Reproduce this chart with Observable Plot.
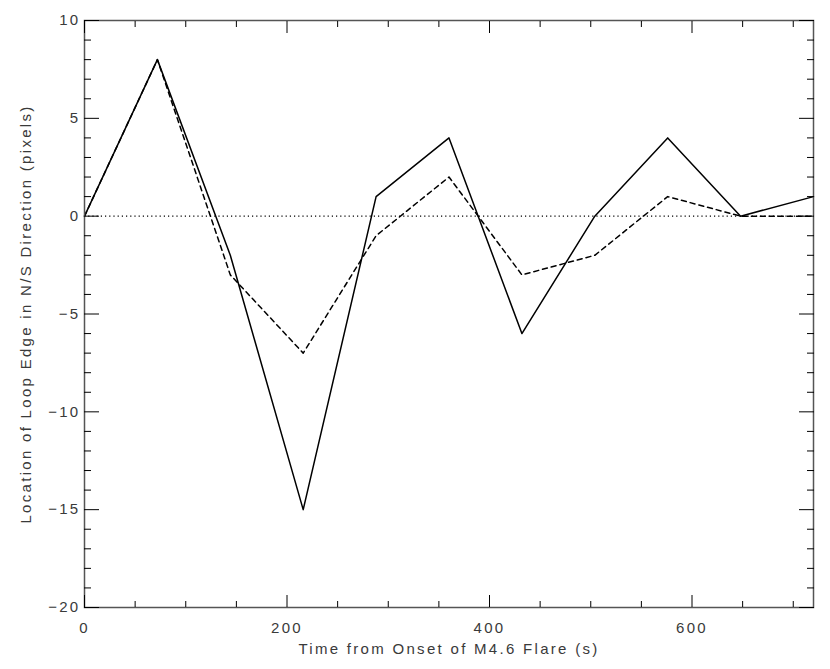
<!DOCTYPE html>
<html>
<head>
<meta charset="utf-8">
<script src="https://cdn.jsdelivr.net/npm/d3@7"></script>
<script src="https://cdn.jsdelivr.net/npm/@observablehq/plot@0.6"></script>
<style>
  html, body { margin: 0; padding: 0; background: #fff; }
</style>
</head>
<body>
<div id="chart"></div>
<script>
// Data
const times = [0, 72, 144, 216, 288, 360, 432, 504, 576, 648, 720];
const solidValues = [0, 8, -2, -15, 1, 4, -6, 0, 4, 0, 1];
const dashedValues = [0, 8, -3, -7, -1, 2, -3, -2, 1, 0, 0];

const xMajorTicks = [0, 200, 400, 600];
const xMinorTicks = [50, 100, 150, 250, 300, 350, 450, 500, 550, 650, 700];
const yMajorTicks = [-20, -15, -10, -5, 0, 5, 10];
const yMinorTicks = [-19, -18, -17, -16, -14, -13, -12, -11, -9, -8, -7, -6, -4, -3, -2, -1, 1, 2, 3, 4, 6, 7, 8, 9];

const xLabel = "Time from Onset of M4.6 Flare (s)";
const yLabel = "Location of Loop Edge in N/S Direction (pixels)";

const solid = times.map((t, i) => ({t, v: solidValues[i]}));
const dashed = times.map((t, i) => ({t, v: dashedValues[i]}));

const noText = () => "";

const chart = Plot.plot({
  width: 830,
  height: 669,
  marginLeft: 84,
  marginRight: 17,
  marginTop: 20,
  marginBottom: 62,
  x: {domain: [0, 720]},
  y: {domain: [-20, 10]},
  style: {
    fontFamily: "'Liberation Sans', Arial, sans-serif",
    fontSize: "15px",
    color: "#3a3a3a",
    background: "#fff",
    letterSpacing: "2.3px"
  },
  marks: [
    Plot.ruleY([0], {stroke: "#000", strokeWidth: 1.2, strokeDasharray: "1.2,3"}),
    Plot.line(dashed, {x: "t", y: "v", stroke: "#000", strokeWidth: 1.5, strokeDasharray: "5,4"}),
    Plot.line(solid, {x: "t", y: "v", stroke: "#000", strokeWidth: 1.5}),
    Plot.frame({stroke: "#555", strokeWidth: 1.5}),
    // inward tick marks on all four sides
    Plot.axisX({anchor: "bottom", ticks: xMajorTicks, tickSize: -12, tickFormat: noText, label: null, stroke: "#000"}),
    Plot.axisX({anchor: "bottom", ticks: xMinorTicks, tickSize: -6, tickFormat: noText, label: null, stroke: "#000"}),
    Plot.axisX({anchor: "top", ticks: xMajorTicks, tickSize: -12, tickFormat: noText, label: null, stroke: "#000"}),
    Plot.axisX({anchor: "top", ticks: xMinorTicks, tickSize: -6, tickFormat: noText, label: null, stroke: "#000"}),
    Plot.axisY({anchor: "left", ticks: yMajorTicks, tickSize: -15, tickFormat: noText, label: null, stroke: "#000"}),
    Plot.axisY({anchor: "left", ticks: yMinorTicks, tickSize: -7, tickFormat: noText, label: null, stroke: "#000"}),
    Plot.axisY({anchor: "right", ticks: yMajorTicks, tickSize: -15, tickFormat: noText, label: null, stroke: "#000"}),
    Plot.axisY({anchor: "right", ticks: yMinorTicks, tickSize: -7, tickFormat: noText, label: null, stroke: "#000"}),
    // tick labels
    Plot.axisX({anchor: "bottom", ticks: xMajorTicks, tickSize: 0, tickPadding: 15, label: null, tickFormat: d => String(d)}),
    Plot.axisY({anchor: "left", ticks: yMajorTicks, tickSize: 0, tickPadding: 4, label: null}),
    // axis titles
    Plot.text([xLabel], {text: d => d, frameAnchor: "bottom", dy: 42, lineAnchor: "middle", fill: "#3a3a3a"}),
    Plot.text([yLabel], {text: d => d, frameAnchor: "left", dx: -58, rotate: -90, lineAnchor: "middle", textAnchor: "middle", fill: "#3a3a3a"})
  ]
});
document.getElementById("chart").appendChild(chart);
</script>
</body>
</html>
